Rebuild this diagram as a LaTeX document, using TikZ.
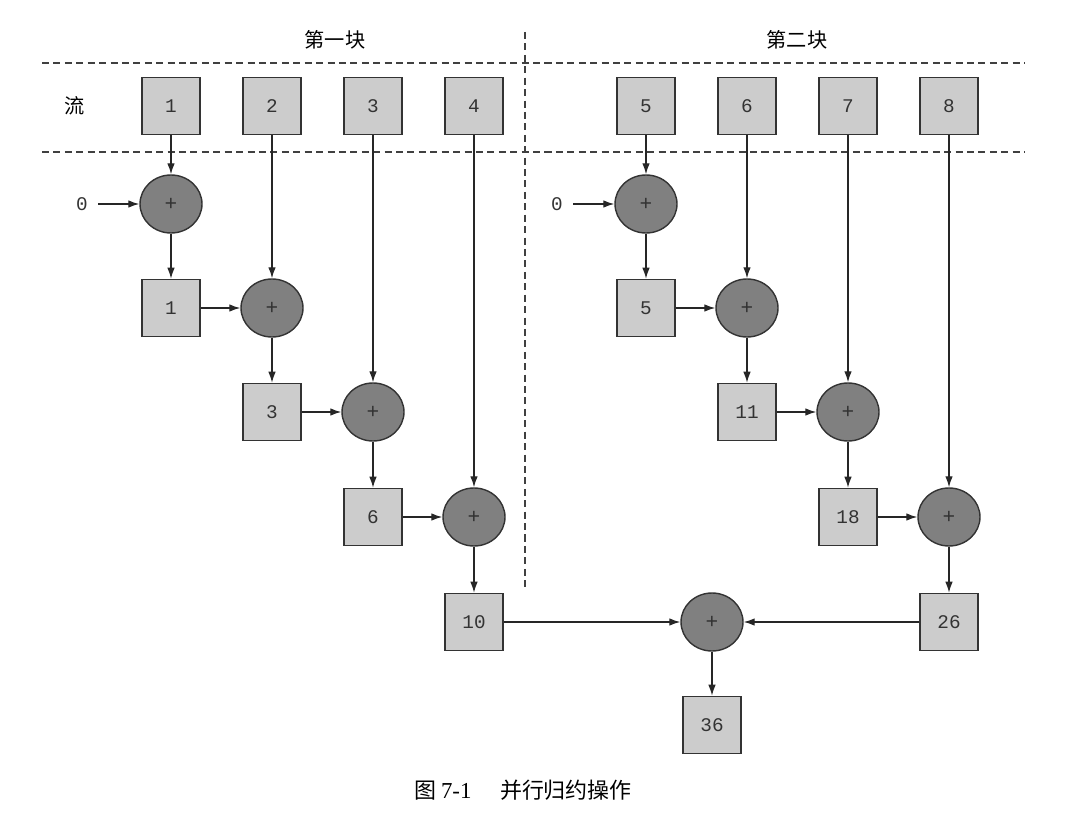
\documentclass[tikz,border=0pt]{standalone}
\usepackage{fontspec}
\setmonofont{Liberation Mono}
\newfontfamily\cjk{Noto Sans CJK SC}
\newfontfamily\capserif{Liberation Serif}
\usetikzlibrary{shapes.geometric,arrows.meta}
\definecolor{boxfill}{HTML}{CCCCCC}
\definecolor{circfill}{HTML}{808080}
\definecolor{edge}{HTML}{333333}
\definecolor{txt}{HTML}{333333}
\tikzset{
  sq/.style={draw=edge, line width=0.9pt, fill=boxfill, minimum width=1.16cm, minimum height=1.14cm, inner sep=0pt, font=\ttfamily\fontsize{11}{13}\selectfont, text=txt},
  op/.style={ellipse, draw=edge, line width=0.8pt, fill=circfill, minimum width=1.24cm, minimum height=1.16cm, inner sep=0pt, font=\ttfamily\fontsize{12}{14}\selectfont, text=black!80},
  lbl/.style={font=\ttfamily\fontsize{11}{13}\selectfont, text=txt, inner sep=0pt},
  cjklbl/.style={font=\cjk\fontsize{11.5}{13}\selectfont, inner sep=0pt},
  arr/.style={-{Latex[length=2.2mm,width=1.5mm]}, line width=0.7pt, draw=black!85},
  sep/.style={dashed, dash pattern=on 4pt off 2.5pt, line width=0.7pt, draw=black!75}
}
\begin{document}
\begin{tikzpicture}[x=0.02cm,y=-0.02cm]
\useasboundingbox (0,0) rectangle (1065,821);
% separators
\draw[sep] (42,63) -- (1025,63);
\draw[sep] (42,152) -- (1025,152);
\draw[sep] (525,32) -- (525,590);
\node[cjklbl] (t1) at (335,40) {第一块};
\node[cjklbl] (t2) at (797,40) {第二块};
\node[cjklbl] (liu) at (75,106) {流};
% stream
\foreach \n/\x/\v in {s1/171/1,s2/272/2,s3/373/3,s4/474/4,s5/646/5,s6/747/6,s7/848/7,s8/949/8}
  \node[sq] (\n) at (\x,106) {\v};
% left chunk
\node[lbl] (z1) at (82,204) {0};
\node[op] (p1) at (171,204) {+};
\node[sq] (r1) at (171,308) {1};
\node[op] (p2) at (272,308) {+};
\node[sq] (r2) at (272,412) {3};
\node[op] (p3) at (373,412) {+};
\node[sq] (r3) at (373,517) {6};
\node[op] (p4) at (474,517) {+};
\node[sq] (r4) at (474,622) {10};
% right chunk
\node[lbl] (z2) at (557,204) {0};
\node[op] (q1) at (646,204) {+};
\node[sq] (u1) at (646,308) {5};
\node[op] (q2) at (747,308) {+};
\node[sq] (u2) at (747,412) {11};
\node[op] (q3) at (848,412) {+};
\node[sq] (u3) at (848,517) {18};
\node[op] (q4) at (949,517) {+};
\node[sq] (u4) at (949,622) {26};
% final
\node[op] (f) at (712,622) {+};
\node[sq] (res) at (712,725) {36};
% caption
\node[font=\cjk\fontsize{12.5}{14}\selectfont, inner sep=0pt] (cap) at (523,790) {图 {\capserif\fontsize{13}{14}\selectfont 7-1}\hspace{1.3em}并行归约操作};
% arrows left
\draw[arr] (s1) -- (p1);
\draw[arr] (z1.east) ++(10,0) -- (p1);
\draw[arr] (p1) -- (r1);
\draw[arr] (r1) -- (p2);
\draw[arr] (s2) -- (p2);
\draw[arr] (p2) -- (r2);
\draw[arr] (r2) -- (p3);
\draw[arr] (s3) -- (p3);
\draw[arr] (p3) -- (r3);
\draw[arr] (r3) -- (p4);
\draw[arr] (s4) -- (p4);
\draw[arr] (p4) -- (r4);
% arrows right
\draw[arr] (s5) -- (q1);
\draw[arr] (z2.east) ++(10,0) -- (q1);
\draw[arr] (q1) -- (u1);
\draw[arr] (u1) -- (q2);
\draw[arr] (s6) -- (q2);
\draw[arr] (q2) -- (u2);
\draw[arr] (u2) -- (q3);
\draw[arr] (s7) -- (q3);
\draw[arr] (q3) -- (u3);
\draw[arr] (u3) -- (q4);
\draw[arr] (s8) -- (q4);
\draw[arr] (q4) -- (u4);
% final
\draw[arr] (r4) -- (f);
\draw[arr] (u4) -- (f);
\draw[arr] (f) -- (res);
\end{tikzpicture}
\end{document}
